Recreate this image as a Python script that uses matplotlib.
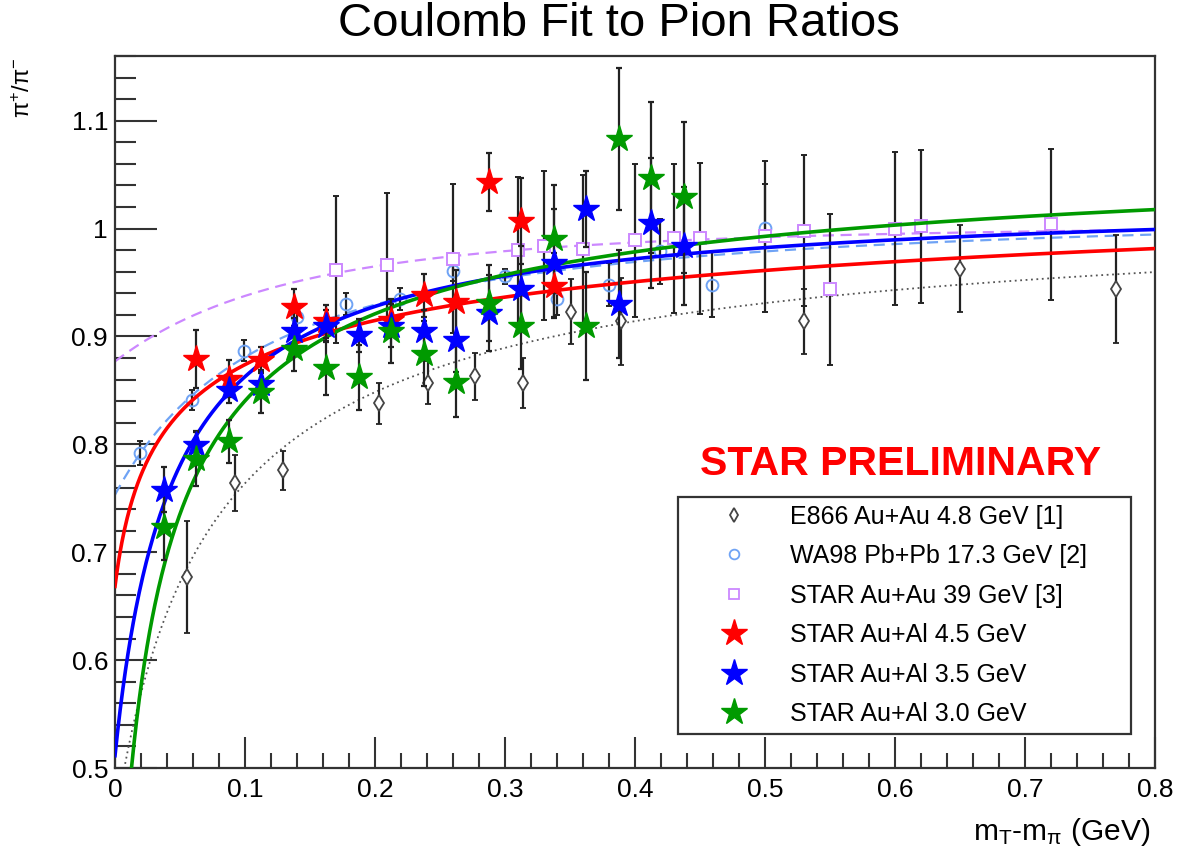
import numpy as np
import matplotlib
matplotlib.use("Agg")
import matplotlib.pyplot as plt
from matplotlib.lines import Line2D
from matplotlib.ticker import MultipleLocator

plt.rcParams["font.family"] = ["Liberation Sans", "DejaVu Sans"]
plt.rcParams["mathtext.fontset"] = "custom"
plt.rcParams["mathtext.rm"] = "Liberation Sans"
plt.rcParams["mathtext.it"] = "Liberation Sans:italic"

# ---- data: pi+/pi- ratio vs mT - m_pi (GeV) ----
e866_x = [0.055, 0.092, 0.129, 0.203, 0.241, 0.277, 0.314, 0.351, 0.389, 0.530, 0.650, 0.770]
e866_y = [0.677, 0.764, 0.776, 0.838, 0.857, 0.863, 0.857, 0.923, 0.914, 0.914, 0.963, 0.944]
e866_e = [0.052, 0.026, 0.018, 0.019, 0.020, 0.022, 0.023, 0.030, 0.040, 0.030, 0.040, 0.050]

wa98_x = [0.019, 0.059, 0.099, 0.140, 0.178, 0.219, 0.260, 0.300, 0.340, 0.380, 0.419, 0.459, 0.500]
wa98_y = [0.792, 0.841, 0.887, 0.918, 0.930, 0.935, 0.961, 0.956, 0.935, 0.948, 0.979, 0.948, 1.001]
wa98_e = [0.011, 0.009, 0.010, 0.010, 0.010, 0.010, 0.010, 0.007, 0.015, 0.020, 0.030, 0.030, 0.040]

s39_x = [0.170, 0.209, 0.260, 0.310, 0.330, 0.360, 0.400, 0.430, 0.450, 0.500, 0.530, 0.550, 0.600, 0.620, 0.720]
s39_y = [0.962, 0.966, 0.972, 0.980, 0.984, 0.981, 0.989, 0.991, 0.991, 0.993, 0.998, 0.944, 1.000, 1.002, 1.004]
s39_e = [0.068, 0.067, 0.069, 0.068, 0.069, 0.069, 0.071, 0.069, 0.070, 0.070, 0.070, 0.070, 0.071, 0.071, 0.070]

al45_x = [0.0625, 0.0875, 0.1125, 0.1375, 0.1625, 0.2125, 0.2375, 0.2625, 0.2875, 0.3125, 0.3375]
al45_y = [0.879, 0.861, 0.878, 0.927, 0.914, 0.915, 0.938, 0.932, 1.043, 1.007, 0.947]
al45_e = [0.027, 0.017, 0.012, 0.017, 0.015, 0.015, 0.020, 0.030, 0.027, 0.040, 0.030]

al35_x = [0.0375, 0.0625, 0.0875, 0.1125, 0.1375, 0.1625, 0.1875, 0.2125, 0.2375, 0.2625,
          0.2875, 0.3125, 0.3375, 0.3625, 0.3875, 0.4125, 0.4375]
al35_y = [0.758, 0.799, 0.850, 0.856, 0.905, 0.910, 0.901, 0.910, 0.905, 0.897,
          0.922, 0.944, 0.968, 1.018, 0.930, 1.005, 0.984]
al35_e = [0.021, 0.013, 0.012, 0.012, 0.012, 0.015, 0.015, 0.020, 0.020, 0.030,
          0.035, 0.040, 0.050, 0.035, 0.050, 0.060, 0.055]

al30_x = [0.0375, 0.0625, 0.0875, 0.1125, 0.1375, 0.1625, 0.1875, 0.2125, 0.2375, 0.2625,
          0.2875, 0.3125, 0.3375, 0.3625, 0.3875, 0.4125, 0.4375]
al30_y = [0.723, 0.786, 0.803, 0.849, 0.888, 0.871, 0.862, 0.905, 0.884, 0.858,
          0.931, 0.910, 0.990, 0.910, 1.083, 1.047, 1.029]
al30_e = [0.030, 0.025, 0.020, 0.020, 0.020, 0.025, 0.030, 0.030, 0.030, 0.033,
          0.035, 0.040, 0.050, 0.050, 0.066, 0.070, 0.070]

# Coulomb fit curves, parametrised as R(x) = A - B * (x + c)^(-p)
fit_red = (1.13597, 0.146134, 0.012993, 0.2678)
fit_blue = (1.03444, 0.030219, 0.039384, 0.8815)
fit_green = (1.09271, 0.066180, 0.017144, 0.6242)
fit_e866 = (1.03360, 0.065689, 0.056997, 0.7628)
fit_wa98 = (1.01928, 0.023240, 0.152738, 1.2973)
fit_s39 = (1.00377, 0.008856, 0.409298, 2.9802)


def coulomb(x, pars):
    a, b, c, p = pars
    return a - b * (x + c) ** (-p)


fig = plt.figure(figsize=(11.8, 8.57), dpi=100)
ax = fig.add_axes([115 / 1180, 1 - 768 / 857, 1040 / 1180, 712 / 857])
ax.set_xlim(0, 0.8)
ax.set_ylim(0.5, 1.16)

xf = np.linspace(0.0, 0.8, 1200)
ax.plot(xf, coulomb(xf, fit_e866), color="#555555", lw=1.3, ls=(0, (1, 2)), zorder=2)
ax.plot(xf, coulomb(xf, fit_wa98), color="#6FA3F5", lw=1.6, ls=(0, (5, 3)), zorder=2)
ax.plot(xf, coulomb(xf, fit_s39), color="#CC88FF", lw=1.6, ls=(0, (5, 3)), zorder=2)

ekw = dict(ecolor="#222222", elinewidth=1.6, capsize=2.5, capthick=1.6, ls="none")
ax.errorbar(e866_x, e866_y, yerr=e866_e, fmt="d", ms=8, mfc="white", mec="#444444",
            mew=1.3, zorder=3, **ekw)
ax.errorbar(wa98_x, wa98_y, yerr=wa98_e, fmt="o", ms=8.5, mfc="none", mec="#6FA3F5",
            mew=1.4, zorder=3, **ekw)
ax.errorbar(s39_x, s39_y, yerr=s39_e, fmt="s", ms=9, mfc="white", mec="#CC88FF",
            mew=1.4, zorder=3, **ekw)

ax.plot(xf, coulomb(xf, fit_red), color="#FF0000", lw=2.6, zorder=4)
ax.plot(xf, coulomb(xf, fit_blue), color="#0000FF", lw=2.6, zorder=4)
ax.plot(xf, coulomb(xf, fit_green), color="#009A00", lw=2.6, zorder=4)

for xs, ys, es, col in [(al45_x, al45_y, al45_e, "#FF0000"),
                        (al35_x, al35_y, al35_e, "#0000FF"),
                        (al30_x, al30_y, al30_e, "#009A00")]:
    ax.errorbar(xs, ys, yerr=es, fmt="none", zorder=5, **ekw)
    ax.plot(xs, ys, ls="none", marker="*", ms=20, color=col, mec=col, zorder=6)

# axes styling
ax.xaxis.set_major_locator(MultipleLocator(0.1))
ax.xaxis.set_minor_locator(MultipleLocator(0.02))
ax.yaxis.set_major_locator(MultipleLocator(0.1))
ax.yaxis.set_minor_locator(MultipleLocator(0.02))
ax.tick_params(which="both", direction="in", top=False, right=False, width=1.5,
               colors="#333333", labelcolor="black")
ax.tick_params(axis="x", which="major", length=22, labelsize=19, pad=7)
ax.tick_params(axis="x", which="minor", length=11)
ax.tick_params(axis="y", which="major", length=30, labelsize=19, pad=5)
ax.tick_params(axis="y", which="minor", length=15)
ax.set_xticks(np.round(np.arange(0, 0.81, 0.1), 1))
ax.set_xticklabels(["0", "0.1", "0.2", "0.3", "0.4", "0.5", "0.6", "0.7", "0.8"])
ax.set_yticks([0.5, 0.6, 0.7, 0.8, 0.9, 1.0, 1.1])
ax.set_yticklabels(["0.5", "0.6", "0.7", "0.8", "0.9", "1", "1.1"])
for sp in ax.spines.values():
    sp.set_linewidth(1.6)
    sp.set_color("#333333")

fig.text(619 / 1180, 1 - 24 / 857, "Coulomb Fit to Pion Ratios", ha="center", va="center",
         fontsize=34)
fig.text(1150 / 1180, 1 - 832 / 857, r"m$_{\mathrm{T}}$-m$_{\mathrm{π}}$ (GeV)", ha="right",
         va="center", fontsize=21.5)
fig.text(24 / 1180, 1 - 57 / 857, r"π$^{+}$/π$^{-}$", ha="center", va="top",
         rotation=90, fontsize=17)

ax.text(0.755, 0.4265, "STAR PRELIMINARY", transform=ax.transAxes, ha="center",
        va="center", color="#FF0000", fontsize=29.5, fontweight="bold")

handles = [
    Line2D([], [], ls="none", marker="d", ms=7, mfc="white", mec="#444444", mew=1.3),
    Line2D([], [], ls="none", marker="o", ms=7, mfc="none", mec="#6FA3F5", mew=1.3),
    Line2D([], [], ls="none", marker="s", ms=7.5, mfc="none", mec="#CC88FF", mew=1.3),
    Line2D([], [], ls="none", marker="*", ms=20, color="#FF0000"),
    Line2D([], [], ls="none", marker="*", ms=20, color="#0000FF"),
    Line2D([], [], ls="none", marker="*", ms=20, color="#009A00"),
]
labels = ["E866 Au+Au 4.8 GeV [1]", "WA98 Pb+Pb 17.3 GeV [2]", "STAR Au+Au 39 GeV [3]",
          "STAR Au+Al 4.5 GeV", "STAR Au+Al 3.5 GeV", "STAR Au+Al 3.0 GeV"]
leg = ax.legend(handles, labels, loc="upper left",
                bbox_to_anchor=((678 - 115) / 1040, (768 - 497) / 712, 453 / 1040, 0.0),
                mode="expand", borderaxespad=0, fontsize=18, frameon=True, fancybox=False,
                edgecolor="#333333", framealpha=1, labelspacing=0.62, handletextpad=0.3,
                borderpad=0.3, handlelength=3.9)
leg.get_frame().set_linewidth(1.6)

fig.savefig("out.png", dpi=100)
